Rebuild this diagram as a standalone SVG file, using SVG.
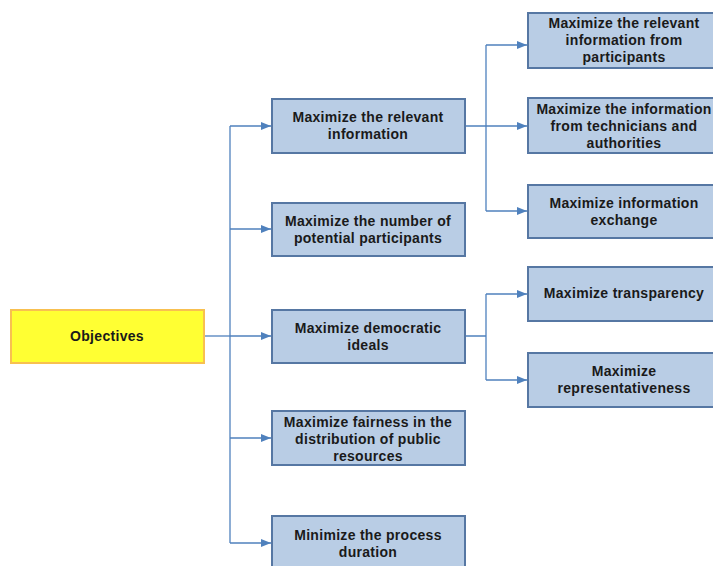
<svg xmlns="http://www.w3.org/2000/svg" width="713" height="566" viewBox="0 0 713 566">
<style>
.n{fill:#b9cde5;stroke:#5677a3;stroke-width:2}
.r{fill:#ffff33;stroke:#f8c050;stroke-width:2}
text{font-family:"Liberation Sans",Arial,sans-serif;font-weight:bold;font-size:14px;letter-spacing:0.3px;fill:#1a1a1a;text-anchor:middle}
.c{fill:none;stroke:#4f81bd;stroke-width:1.3}
</style>
<defs>
<marker id="a" viewBox="0 0 10 8" refX="10" refY="4" markerWidth="10" markerHeight="8" markerUnits="userSpaceOnUse" orient="auto">
<path d="M0,0L10,4L0,8z" fill="#4f81bd"/>
</marker>
</defs>
<rect width="713" height="566" fill="#fff"/>
<g id="connectors">
<path class="c" d="M204,336H230"/>
<path class="c" d="M230,126V543"/>
<path class="c" d="M230,126H271" marker-end="url(#a)"/>
<path class="c" d="M230,229H271" marker-end="url(#a)"/>
<path class="c" d="M230,336H271" marker-end="url(#a)"/>
<path class="c" d="M230,438H271" marker-end="url(#a)"/>
<path class="c" d="M230,543H271" marker-end="url(#a)"/>
<path class="c" d="M465,126H486M486,45V211"/>
<path class="c" d="M486,45H527" marker-end="url(#a)"/>
<path class="c" d="M486,126H527" marker-end="url(#a)"/>
<path class="c" d="M486,211H527" marker-end="url(#a)"/>
<path class="c" d="M465,336H486M486,294V380"/>
<path class="c" d="M486,294H527" marker-end="url(#a)"/>
<path class="c" d="M486,380H527" marker-end="url(#a)"/>
</g>
<g id="objectives"><rect class="r" x="11" y="310" width="193" height="53"/><text x="107" y="341">Objectives</text></g>
<g id="m1"><rect class="n" x="272" y="99" width="193" height="54"/><text x="368" y="122">Maximize the relevant</text><text x="368" y="139">information</text></g>
<g id="m2"><rect class="n" x="272" y="203" width="193" height="53"/><text x="368" y="226">Maximize the number of</text><text x="368" y="243">potential participants</text></g>
<g id="m3"><rect class="n" x="272" y="310" width="193" height="53"/><text x="368" y="333">Maximize democratic</text><text x="368" y="350">ideals</text></g>
<g id="m4"><rect class="n" x="272" y="411" width="193" height="54"/><text x="368" y="427">Maximize fairness in the</text><text x="368" y="444">distribution of public</text><text x="368" y="461">resources</text></g>
<g id="m5"><rect class="n" x="272" y="516" width="193" height="54"/><text x="368" y="540">Minimize the process</text><text x="368" y="557">duration</text></g>
<g id="r1"><rect class="n" x="528" y="13" width="193" height="55"/><text x="624" y="28">Maximize the relevant</text><text x="624" y="45">information from</text><text x="624" y="62">participants</text></g>
<g id="r2"><rect class="n" x="528" y="98" width="193" height="55"/><text x="624" y="114">Maximize the information</text><text x="624" y="131">from technicians and</text><text x="624" y="148">authorities</text></g>
<g id="r3"><rect class="n" x="528" y="185" width="193" height="53"/><text x="624" y="208">Maximize information</text><text x="624" y="225">exchange</text></g>
<g id="r4"><rect class="n" x="528" y="267" width="193" height="54"/><text x="624" y="298">Maximize transparency</text></g>
<g id="r5"><rect class="n" x="528" y="353" width="193" height="54"/><text x="624" y="376">Maximize</text><text x="624" y="393">representativeness</text></g>
</svg>
